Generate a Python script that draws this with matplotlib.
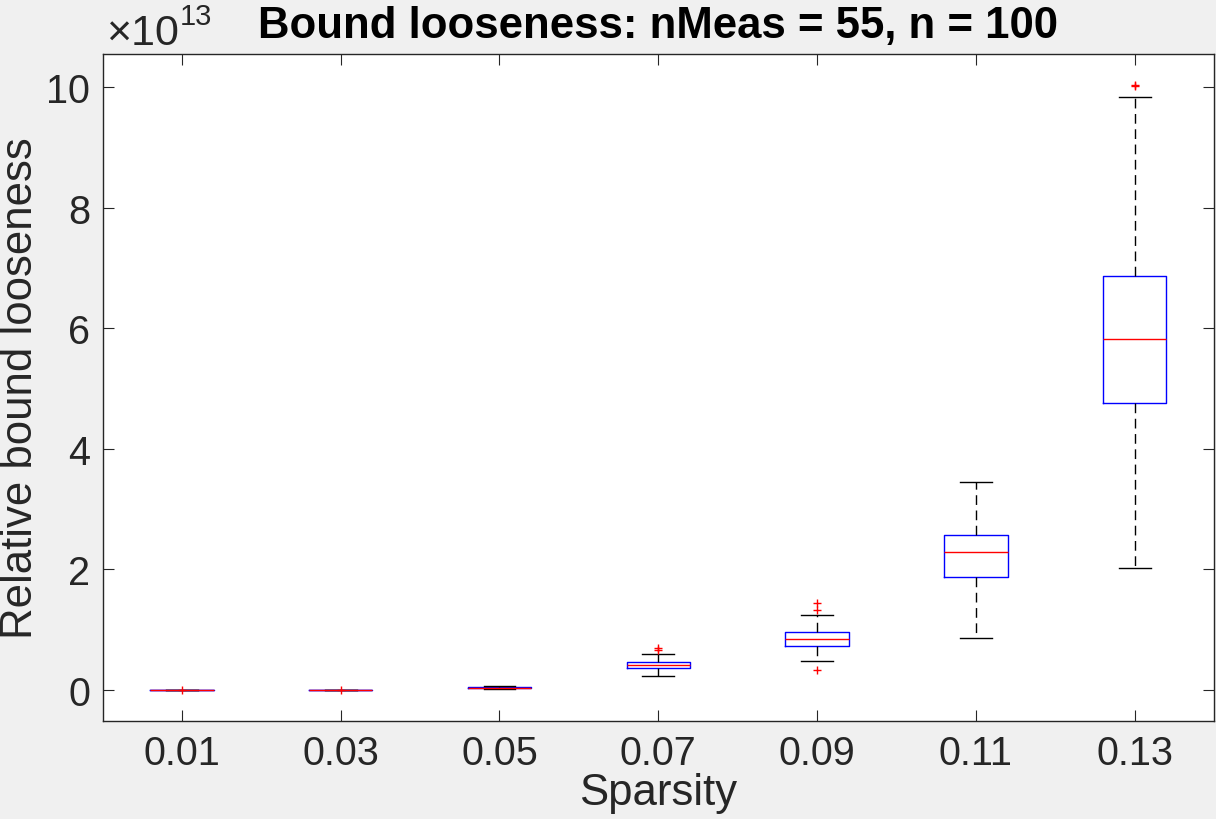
import matplotlib
matplotlib.use("Agg")
import matplotlib.pyplot as plt

# values in units of 1e13
sparsity = ['0.01', '0.03', '0.05', '0.07', '0.09', '0.11', '0.13']
whis_lo = [0.0, 0.0, 0.02, 0.23, 0.48, 0.86, 2.02]
q1 = [0.0, 0.0, 0.03, 0.36, 0.73, 1.87, 4.76]
med = [0.0, 0.0, 0.04, 0.41, 0.85, 2.29, 5.82]
q3 = [0.001, 0.001, 0.05, 0.46, 0.96, 2.57, 6.87]
whis_hi = [0.002, 0.003, 0.06, 0.60, 1.24, 3.45, 9.83]
outliers = [[0.004], [0.006], [], [0.66, 0.69], [1.33, 1.44, 0.33], [], [10.02, 10.04]]

plt.rcParams['font.family'] = ['Liberation Sans', 'DejaVu Sans']
dark = '#262626'

stats = []
for i in range(len(sparsity)):
    stats.append({'whislo': whis_lo[i], 'q1': q1[i], 'med': med[i], 'q3': q3[i],
                  'whishi': whis_hi[i], 'fliers': outliers[i], 'label': sparsity[i]})

fig = plt.figure(figsize=(12.16, 8.2), dpi=100, facecolor='#f0f0f0')
ax = fig.add_axes([0.0843, 0.1195, 0.9141, 0.8134])
ax.bxp(stats, positions=range(1, 8), widths=0.4, capwidths=0.2,
       boxprops=dict(color='blue', linewidth=1.0),
       medianprops=dict(color='red', linewidth=1.0),
       whiskerprops=dict(color='black', linewidth=1.0, dashes=(7, 4)),
       capprops=dict(color='black', linewidth=1.0),
       flierprops=dict(marker='+', markeredgecolor='red', markersize=6,
                       markeredgewidth=1.0, linestyle='none'))

ax.set_xlim(0.5, 7.5)
ax.set_ylim(-0.514, 10.547)
ax.set_yticks([0, 2, 4, 6, 8, 10])
ax.set_yticklabels(['0', '2', '4', '6', '8', '10'])
ax.tick_params(direction='in', length=8, width=0.8, colors=dark, labelsize=28.5,
               top=True, right=True, pad=9)
for s in ax.spines.values():
    s.set_color(dark)
    s.set_linewidth(1.0)

ax.set_xlabel('Sparsity', fontsize=31.5, color=dark, labelpad=0)
ax.set_ylabel('Relative bound looseness', fontsize=31.5, color=dark, labelpad=4)
ax.set_title('Bound looseness: nMeas = 55, n = 100', fontsize=31.5,
             fontweight='bold', color='black', pad=12)

# exponent label like MATLAB's
fig.text(106 / 1216, 1 - 45 / 820, '\u00d710', fontsize=31, color=dark,
         ha='left', va='baseline')
fig.text(180 / 1216, 1 - 25 / 820, '13', fontsize=21, color=dark,
         ha='left', va='baseline')

fig.savefig('out.png', dpi=100, facecolor=fig.get_facecolor())
